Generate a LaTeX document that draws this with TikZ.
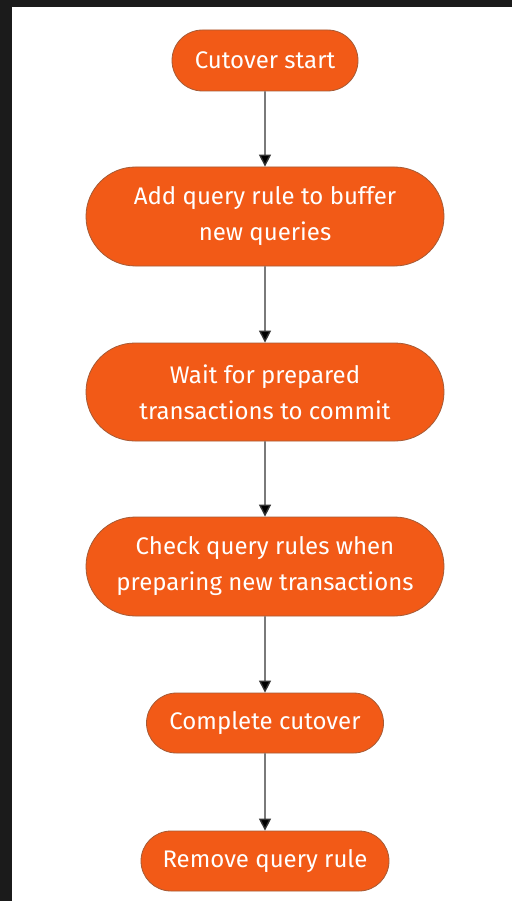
\documentclass[tikz,border=0pt]{standalone}
\usepackage{fontspec}
\setmainfont{Fira Sans}
\usetikzlibrary{arrows.meta,shapes.misc}
\definecolor{stepfill}{HTML}{F25A17}
\definecolor{stepedge}{HTML}{A65A35}
\definecolor{framedark}{HTML}{1B1B1B}
\definecolor{flowline}{HTML}{333333}
\tikzset{
  stepbox/.style 2 args={rounded rectangle, draw=stepedge, line width=0.8pt,
    fill=stepfill, text=white, align=center, inner sep=0pt,
    minimum width=#1, minimum height=#2,
    font=\fontsize{24}{36}\selectfont},
  flow/.style={draw=flowline, line width=1.4pt,
    -{Triangle[length=12pt,width=12pt,fill=black]}}
}
\begin{document}
\begin{tikzpicture}[x=1pt,y=-1pt]
  \useasboundingbox (0,0) rectangle (512,901);
  \fill[white] (0,0) rectangle (512,901);
  \fill[framedark] (0,0) rectangle (512,7);
  \fill[framedark] (0,0) rectangle (12,901);

  \node[stepbox={186pt}{61pt}] (start) at (265,60.5) {Cutover start};
  \node[stepbox={358pt}{99pt}] (addrule) at (265,216.5) {Add query rule to buffer\\new queries};
  \node[stepbox={358pt}{98pt}] (wait) at (265,392) {Wait for prepared\\transactions to commit};
  \node[stepbox={358pt}{99pt}] (check) at (265,566.5) {Check query rules when\\preparing new transactions};
  \node[stepbox={237pt}{60pt}] (complete) at (265,723) {Complete cutover};
  \node[stepbox={248pt}{60pt}] (remove) at (265,861) {Remove query rule};

  \draw[flow] (start) -- (addrule);
  \draw[flow] (addrule) -- (wait);
  \draw[flow] (wait) -- (check);
  \draw[flow] (check) -- (complete);
  \draw[flow] (complete) -- (remove);
\end{tikzpicture}
\end{document}
